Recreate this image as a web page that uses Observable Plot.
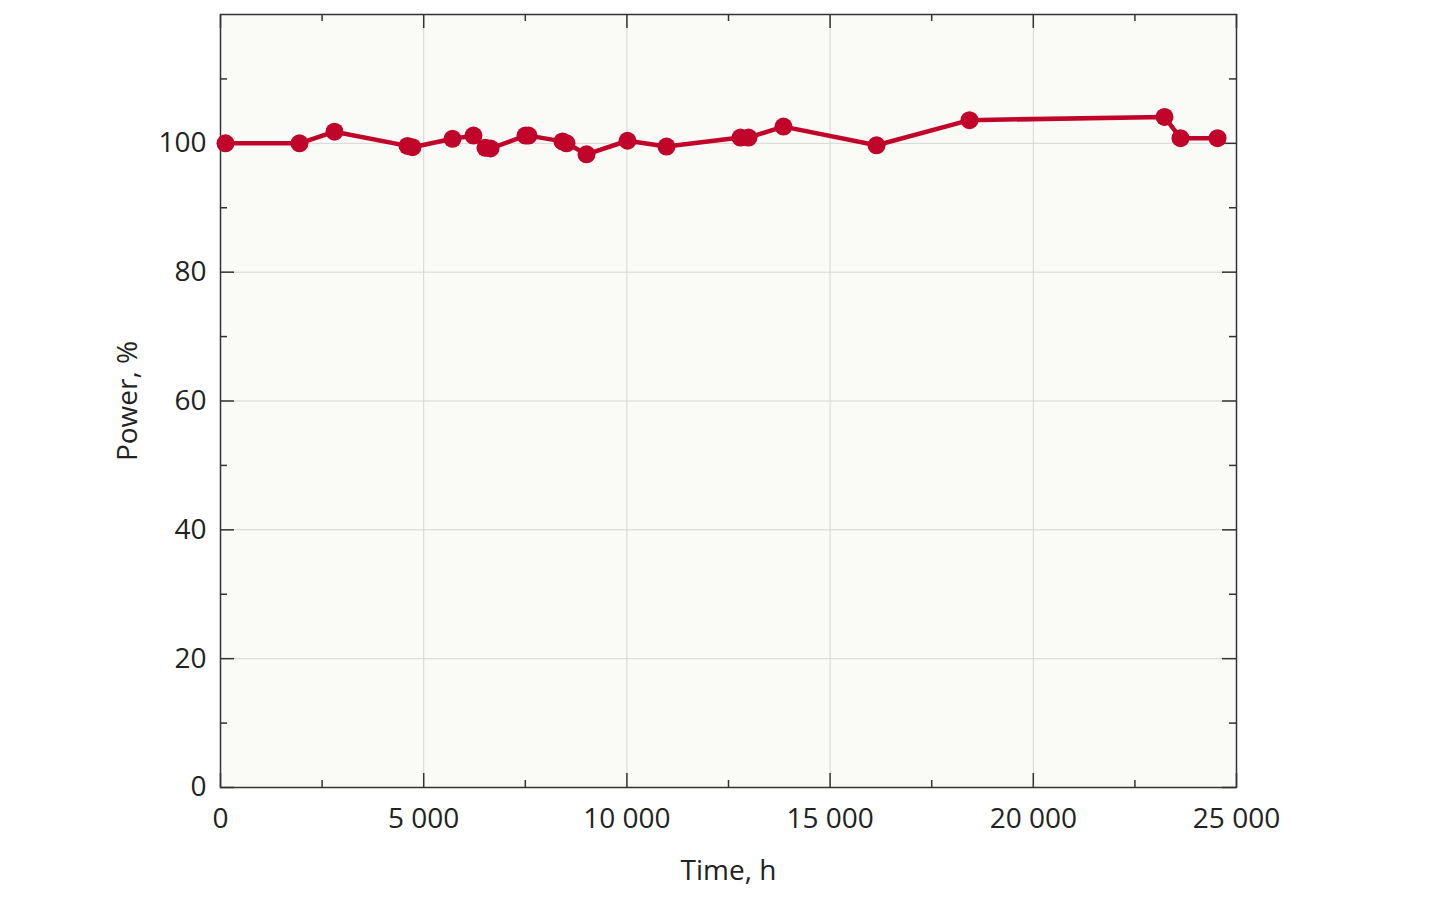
<!DOCTYPE html>
<html>
<head>
<meta charset="utf-8">
<script src="https://cdn.jsdelivr.net/npm/d3@7"></script>
<script src="https://cdn.jsdelivr.net/npm/@observablehq/plot@0.6"></script>
<style>
  html, body { margin: 0; padding: 0; background: #ffffff; }
  #chart { width: 1440px; height: 900px; }
</style>
</head>
<body>
<div id="chart"></div>
<script>
// Data
const timeHours = [123, 1944, 2805, 4601, 4724, 5709, 6225, 6520, 6644, 7505, 7579, 8415, 8514, 9006, 10015, 10974, 12795, 12992, 13853, 16142, 18430, 23228, 23622, 24533];
const powerPct  = [100.0, 100.0, 101.8, 99.6, 99.4, 100.7, 101.2, 99.3, 99.2, 101.2, 101.2, 100.3, 100.0, 98.3, 100.4, 99.5, 100.9, 100.9, 102.6, 99.7, 103.6, 104.1, 100.8, 100.8];

const xMajorTicks = [0, 5000, 10000, 15000, 20000, 25000];
const xMinorTicks = [2500, 7500, 12500, 17500, 22500];
const yMajorTicks = [0, 20, 40, 60, 80, 100];
const yMinorTicks = [10, 30, 50, 70, 90, 110];

const xLabel = "Time, h";
const yLabel = "Power, %";

const data = timeHours.map((t, i) => ({time: t, power: powerPct[i]}));

const W = 1440, H = 900;
const mL = 220, mR = 204, mT = 14, mB = 113;
const innerH = H - mT - mB;
const innerW = W - mL - mR;
const lineColor = "#c0042a";
const fmt = d => d3.format(",")(d).replace(/,/g, " ");

const majorLen = 14, minorLen = 7;

const chart = Plot.plot({
  width: W,
  height: H,
  marginLeft: mL,
  marginRight: mR,
  marginTop: mT,
  marginBottom: mB,
  style: {fontFamily: "'Open Sans', 'Noto Sans', sans-serif", fontSize: "28px", color: "#222", background: "#ffffff"},
  x: {domain: [0, 25000], ticks: xMajorTicks},
  y: {domain: [0, 120], ticks: yMajorTicks},
  marks: [
    Plot.frame({fill: "#fafaf7", stroke: null}),
    Plot.gridX(xMajorTicks, {stroke: "#d6d6d6", strokeOpacity: 1, strokeWidth: 1}),
    Plot.gridY(yMajorTicks, {stroke: "#d6d6d6", strokeOpacity: 1, strokeWidth: 1}),
    // inward ticks: bottom
    Plot.tickX(xMajorTicks, {x: d => d, insetTop: innerH - majorLen, stroke: "#333", strokeWidth: 1.5}),
    Plot.tickX(xMinorTicks, {x: d => d, insetTop: innerH - minorLen, stroke: "#333", strokeWidth: 1.5}),
    // top
    Plot.tickX(xMajorTicks, {x: d => d, insetBottom: innerH - majorLen, stroke: "#333", strokeWidth: 1.5}),
    Plot.tickX(xMinorTicks, {x: d => d, insetBottom: innerH - minorLen, stroke: "#333", strokeWidth: 1.5}),
    // left
    Plot.tickY(yMajorTicks, {y: d => d, insetRight: innerW - majorLen, stroke: "#333", strokeWidth: 1.5}),
    Plot.tickY(yMinorTicks, {y: d => d, insetRight: innerW - minorLen, stroke: "#333", strokeWidth: 1.5}),
    // right
    Plot.tickY(yMajorTicks, {y: d => d, insetLeft: innerW - majorLen, stroke: "#333", strokeWidth: 1.5}),
    Plot.tickY(yMinorTicks, {y: d => d, insetLeft: innerW - minorLen, stroke: "#333", strokeWidth: 1.5}),
    Plot.frame({stroke: "#333", strokeWidth: 1.5}),
    Plot.axisX({ticks: xMajorTicks, tickSize: 0, tickPadding: 21, tickFormat: fmt, label: xLabel, labelAnchor: "center", labelArrow: "none", labelOffset: 92, fill: "#222"}),
    Plot.axisY({ticks: yMajorTicks, tickSize: 0, tickPadding: 14, tickFormat: fmt, label: yLabel, labelAnchor: "center", labelArrow: "none", labelOffset: 103, fill: "#222"}),
    Plot.line(data, {x: "time", y: "power", stroke: lineColor, strokeWidth: 4.5}),
    Plot.dot(data, {x: "time", y: "power", r: 9, fill: lineColor, stroke: null})
  ]
});

document.getElementById("chart").appendChild(chart);
</script>
</body>
</html>
